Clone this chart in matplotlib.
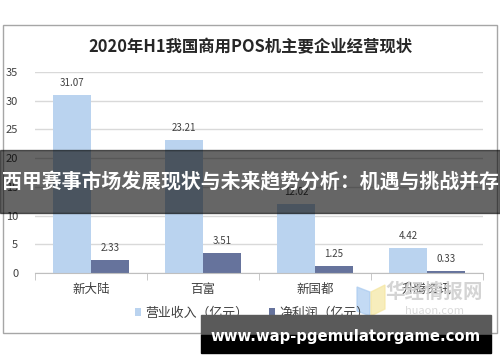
import matplotlib.pyplot as plt
import numpy as np
from matplotlib.patches import Rectangle, Polygon

plt.rcParams['font.family'] = ['Noto Sans CJK SC', 'DejaVu Sans']

companies = ["新大陆", "百富", "新国都", "升腾资讯"]
revenue = [31.07, 23.21, 12.02, 4.42]
profit = [2.33, 3.51, 1.25, 0.33]
yticks = [0, 5, 10, 15, 20, 25, 30, 35]

fig = plt.figure(figsize=(5, 3.62), dpi=100)
W, H = 500, 362

def fx(px):
    return px / W

def fy(py):
    return 1 - py / H

# outer chart frame
fig.patches.append(Rectangle((fx(3), fy(333)), fx(494), 308 / H, transform=fig.transFigure,
                             fill=False, edgecolor="#a6a6a6", linewidth=1))

ax = fig.add_axes([fx(35), fy(273), fx(448), (273 - 72) / H])
x = np.arange(len(companies))
w = 0.335
b1 = ax.bar(x - w / 2, revenue, w, color="#bad3ef", label="营业收入（亿元）")
b2 = ax.bar(x + w / 2, profit, w, color="#66739c", label="净利润（亿元）")
for bars, vals in ((b1, revenue), (b2, profit)):
    for rect, v in zip(bars, vals):
        ax.text(rect.get_x() + rect.get_width() / 2, v + 1.2, f"{v:.2f}",
                ha="center", va="bottom", fontsize=7, color="#404040")

ax.set_xlim(-0.5, len(companies) - 0.5)
ax.set_ylim(0, 35)
ax.set_yticks(yticks)
ax.tick_params(axis="y", length=0, labelsize=8, labelcolor="#404040", pad=12)
ax.yaxis.grid(True, color="#d9d9d9", linewidth=1)
ax.set_axisbelow(True)
ax.set_xticks(x)
ax.set_xticklabels(companies, fontsize=9, color="#404040")
ax.set_xticks(np.arange(-0.5, len(companies)), minor=True)
ax.tick_params(axis="x", which="major", length=0, pad=7)
ax.tick_params(axis="x", which="minor", length=5, color="#bfbfbf")
for s in ["top", "right", "left"]:
    ax.spines[s].set_visible(False)
ax.spines["bottom"].set_color("#bfbfbf")

fig.text(0.5, fy(47), "2020年H1我国商用POS机主要企业经营现状", ha="center", va="center",
         fontsize=11.8, fontweight="bold", color="#262626")

leg = fig.legend(handles=[b1, b2], loc="center", bbox_to_anchor=(fx(252), fy(313)),
                 ncol=2, frameon=False, fontsize=9.3, handlelength=0.5, handleheight=0.5,
                 handletextpad=0.3, columnspacing=1.6)
for t in leg.get_texts():
    t.set_color("#404040")

# watermark
fig.patches.append(Polygon([[fx(357), fy(287)], [fx(370), fy(292)], [fx(370), fy(316)], [fx(357), fy(311)]],
                           closed=True, transform=fig.transFigure, color="#aacbf0", alpha=0.7))
fig.patches.append(Polygon([[fx(371), fy(292)], [fx(385), fy(285)], [fx(385), fy(309)], [fx(371), fy(316)]],
                           closed=True, transform=fig.transFigure, color="#f5e6a0", alpha=0.7))
fig.text(fx(434), fy(292), "华经情报网", ha="center", va="center", fontsize=14,
         fontweight="bold", color="#d0d0d0", alpha=0.9)
fig.text(fx(434), fy(311), "huaon.com", ha="center", va="center", fontsize=8, color="#dadada")

# banner overlay
fig.patches.append(Rectangle((0, fy(213)), 1, 63 / H, transform=fig.transFigure,
                             color="black", alpha=0.6, zorder=10))
fig.text(0.5, fy(182), "西甲赛事市场发展现状与未来趋势分析：机遇与挑战并存", ha="center", va="center",
         fontsize=14.3, fontweight="bold", color="white", zorder=11)

# bottom url bar
fig.patches.append(Rectangle((fx(201), fy(335)), fx(290), 20 / H, transform=fig.transFigure,
                             color="#5a5a5a", zorder=10))
fig.patches.append(Rectangle((fx(201), fy(353)), fx(290), 18 / H, transform=fig.transFigure,
                             color="black", zorder=10))
fig.text(fx(346), fy(337), "www.wap-pgemulatorgame.com", ha="center", va="center",
         fontsize=10.7, fontweight="bold", color="white", family="DejaVu Sans", zorder=11)

fig.savefig("out.png", dpi=100)
